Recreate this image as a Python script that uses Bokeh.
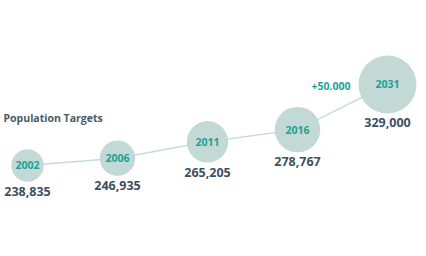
from bokeh.plotting import figure
from bokeh.models import ColumnDataSource, Range1d, Label
from bokeh.core.properties import value
from bokeh.embed import file_html
from bokeh.resources import INLINE
import numpy as np

years = ["2002", "2006", "2011", "2016", "2031"]
population = [238835, 246935, 265205, 278767, 329000]
value_labels = ["238,835", "246,935", "265,205", "278,767", "329,000"]
growth_label = "+50.000"
title_text = "Population Targets"

idx = list(range(len(years)))
pop = np.array(population, dtype=float)
radius = 0.08 * np.sqrt(pop - 198000)

src = ColumnDataSource(dict(
    x=idx, y=population, year=years, vlab=value_labels,
    size=2 * radius, yoff=radius + 5,
))

p = figure(width=426, height=256, output_backend="svg", toolbar_location=None,
           x_range=Range1d(-0.3, 4.4333), y_range=Range1d(137540, 422500),
           min_border=0)
p.axis.visible = False
p.grid.visible = False
p.outline_line_color = None
p.background_fill_color = "white"
p.border_fill_color = "white"

FONT = value("Open Sans")

p.line("x", "y", source=src, line_color="#c5ddd9", line_width=1.5)
p.scatter("x", "y", source=src, marker="circle", size="size",
          fill_color="#c2d9d6", line_color=None)
p.text("x", "y", text="year", source=src, text_font=FONT, text_font_style="bold",
       text_font_size="10.5px", text_color="#1ba393", text_align="center",
       text_baseline="middle")
p.text("x", "y", text="vlab", source=src, text_font=FONT, text_font_style="bold",
       text_font_size="12.5px", text_color="#3e5060", text_align="center",
       text_baseline="top", y_offset="yoff")

last = len(years) - 1
gsrc = ColumnDataSource(dict(x=[idx[last]], y=[population[last]], t=[growth_label],
                             xo=[-(radius[last] + 8)]))
p.text("x", "y", text="t", source=gsrc, text_font=FONT, text_font_style="bold",
       text_font_size="10.5px", text_color="#1ba393", text_align="right",
       text_baseline="middle", x_offset="xo", y_offset=2)

p.add_layout(Label(x=3, y=139, x_units="screen", y_units="screen", text=title_text,
                   text_font="Open Sans", text_font_style="bold", text_font_size="10.5px",
                   text_color="#4a5966", text_baseline="middle"))

open("out.html", "w").write(file_html(p, INLINE))
